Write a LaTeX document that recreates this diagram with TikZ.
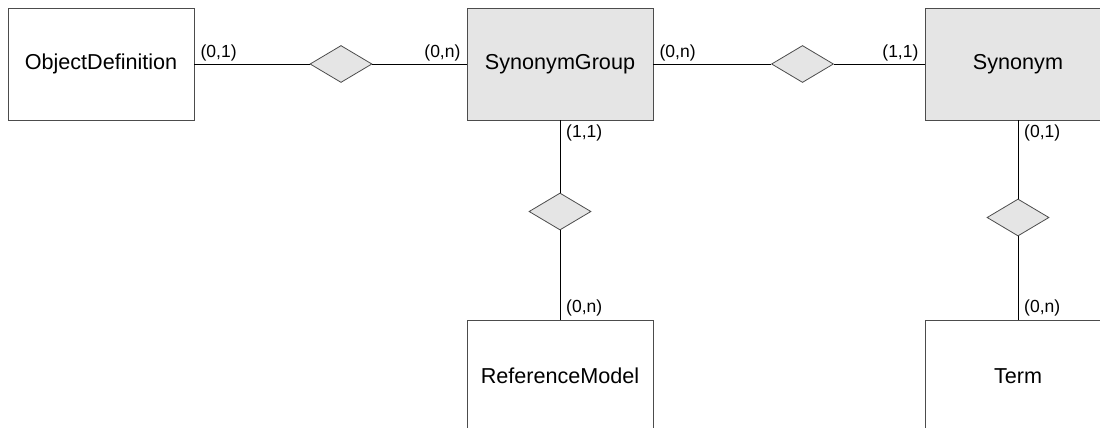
\documentclass[tikz,border=0pt]{standalone}
\usepackage{fontspec}
\setmainfont{Liberation Sans}
\usetikzlibrary{shapes.geometric}
\begin{document}
\begin{tikzpicture}[
      x=1pt, y=-1pt,
      entity/.style={draw=black!70, line width=0.8pt, minimum width=186pt, minimum height=112pt,
        inner sep=0pt, font=\fontsize{21.6}{24}\selectfont},
      weak/.style={entity, fill=black!10},
      relation/.style={diamond, draw=black!70, fill=black!10, line width=0.8pt,
        minimum width=62pt, minimum height=37pt, inner sep=0pt, aspect=1.68},
      link/.style={line width=0.8pt},
      card/.style={inner sep=1pt, font=\fontsize{17.5}{19}\selectfont}
    ]
    \useasboundingbox (0,0) rectangle (1100,428);
    \clip (0,0) rectangle (1100,428);
    \node[entity] (objdef) at (101,64) {ObjectDefinition};
    \node[weak] (syngroup) at (560,64) {SynonymGroup};
    \node[weak] (synonym) at (1018,64) {Synonym};
    \node[entity] (refmodel) at (560,376) {ReferenceModel};
    \node[entity] (term) at (1018,376) {Term};
    \node[relation] (defrel) at (341,64) {};
    \node[relation] (synrel) at (802.5,64) {};
    \node[relation] (refrel) at (560,211.5) {};
    \node[relation] (termrel) at (1018,217.5) {};
    \draw[link] (objdef.east) -- (defrel.west);
    \draw[link] (defrel.east) -- (syngroup.west);
    \draw[link] (syngroup.east) -- (synrel.west);
    \draw[link] (synrel.east) -- (synonym.west);
    \draw[link] (syngroup.south) -- (refrel.north);
    \draw[link] (refrel.south) -- (refmodel.north);
    \draw[link] (synonym.south) -- (termrel.north);
    \draw[link] (termrel.south) -- (term.north);
    % cardinalities
    \node[card, anchor=south west] at ([xshift=5pt, yshift=2pt]objdef.east) {(0,1)};
    \node[card, anchor=south east] at ([xshift=-5pt, yshift=2pt]syngroup.west) {(0,n)};
    \node[card, anchor=south west] at ([xshift=5pt, yshift=2pt]syngroup.east) {(0,n)};
    \node[card, anchor=south east] at ([xshift=-5pt, yshift=2pt]synonym.west) {(1,1)};
    \node[card, anchor=north west] at ([xshift=5pt, yshift=-3pt]syngroup.south) {(1,1)};
    \node[card, anchor=south west] at ([xshift=5pt, yshift=2pt]refmodel.north) {(0,n)};
    \node[card, anchor=north west] at ([xshift=5pt, yshift=-3pt]synonym.south) {(0,1)};
    \node[card, anchor=south west] at ([xshift=5pt, yshift=2pt]term.north) {(0,n)};
  \end{tikzpicture}
\end{document}
